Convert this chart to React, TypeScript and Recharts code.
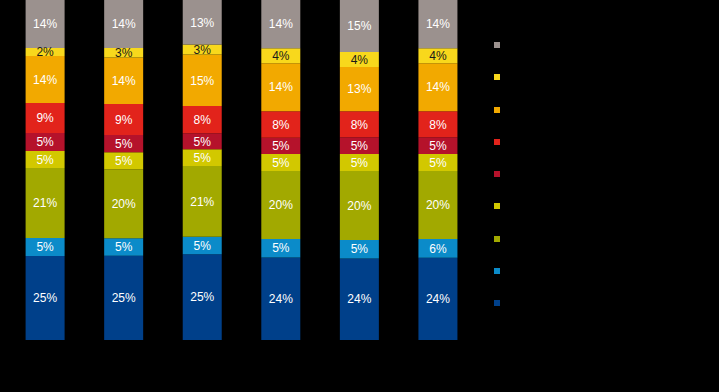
import React from 'react'
import { BarChart, Bar, XAxis, YAxis, LabelList, Legend } from 'recharts'

// six columns, no visible category names in the reference
const categories = ['1', '2', '3', '4', '5', '6']

// segments from bottom to top of each column (shares in %)
const navy = [24.7, 24.8, 25.2, 24.3, 24.0, 24.2]
const blue = [5.3, 5.1, 5.2, 5.4, 5.4, 5.5]
const green = [20.6, 20.3, 20.8, 20.0, 20.3, 20.0]
const lime = [5.0, 5.0, 4.9, 5.0, 5.0, 5.0]
const darkRed = [5.3, 5.1, 4.7, 4.8, 4.9, 4.9]
const red = [8.8, 9.1, 8.0, 7.8, 7.7, 7.7]
const orange = [13.8, 13.7, 15.2, 14.1, 13.0, 14.1]
const yellow = [2.4, 2.8, 2.9, 4.4, 4.4, 4.4]
const grey = [14.1, 14.1, 13.1, 14.2, 15.3, 14.2]

const series = [
  { key: 'navy', values: navy, color: '#00408a', text: '#ffffff' },
  { key: 'blue', values: blue, color: '#0b8bc9', text: '#ffffff' },
  { key: 'green', values: green, color: '#a2a900', text: '#ffffff' },
  { key: 'lime', values: lime, color: '#d2c800', text: '#ffffff' },
  { key: 'darkRed', values: darkRed, color: '#b5122b', text: '#ffffff' },
  { key: 'red', values: red, color: '#e2231b', text: '#ffffff' },
  { key: 'orange', values: orange, color: '#f2a900', text: '#ffffff' },
  { key: 'yellow', values: yellow, color: '#f8d81c', text: '#1a1a1a' },
  { key: 'grey', values: grey, color: '#9b918e', text: '#ffffff' },
]

const data = categories.map((c, i) => {
  const row: Record<string, string | number> = { name: c }
  series.forEach((s) => {
    row[s.key] = s.values[i]
  })
  return row
})

function LegendSquares() {
  const items = [...series].reverse()
  return (
    <div>
      {items.map((s) => (
        <div key={s.key} style={{ height: 32.3, display: 'flex', alignItems: 'flex-start' }}>
          <span style={{ width: 6, height: 6, background: s.color, display: 'inline-block' }} />
        </div>
      ))}
    </div>
  )
}

export default function App() {
  return (
    <div style={{ position: 'absolute', left: 0, top: 0, width: 719, height: 392, background: '#000' }}>
      <BarChart
        width={719}
        height={392}
        data={data}
        margin={{ top: 0, right: 222, left: 5.6, bottom: 52 }}
        barSize={39}
      >
        <XAxis dataKey="name" hide />
        <YAxis hide domain={[0, 100]} />
        <Legend
          content={<LegendSquares />}
          layout="vertical"
          verticalAlign="top"
          align="right"
          wrapperStyle={{ left: 494, top: 42, width: 20 }}
        />
        {series.map((s) => (
          <Bar key={s.key} dataKey={s.key} stackId="a" fill={s.color} isAnimationActive={false}>
            <LabelList
              dataKey={s.key}
              position="center"
              formatter={(v: number) => `${Math.round(v)}%`}
              style={{ fill: s.text, fontSize: 12, fontFamily: 'Liberation Sans, Arial, sans-serif' }}
            />
          </Bar>
        ))}
      </BarChart>
    </div>
  )
}
